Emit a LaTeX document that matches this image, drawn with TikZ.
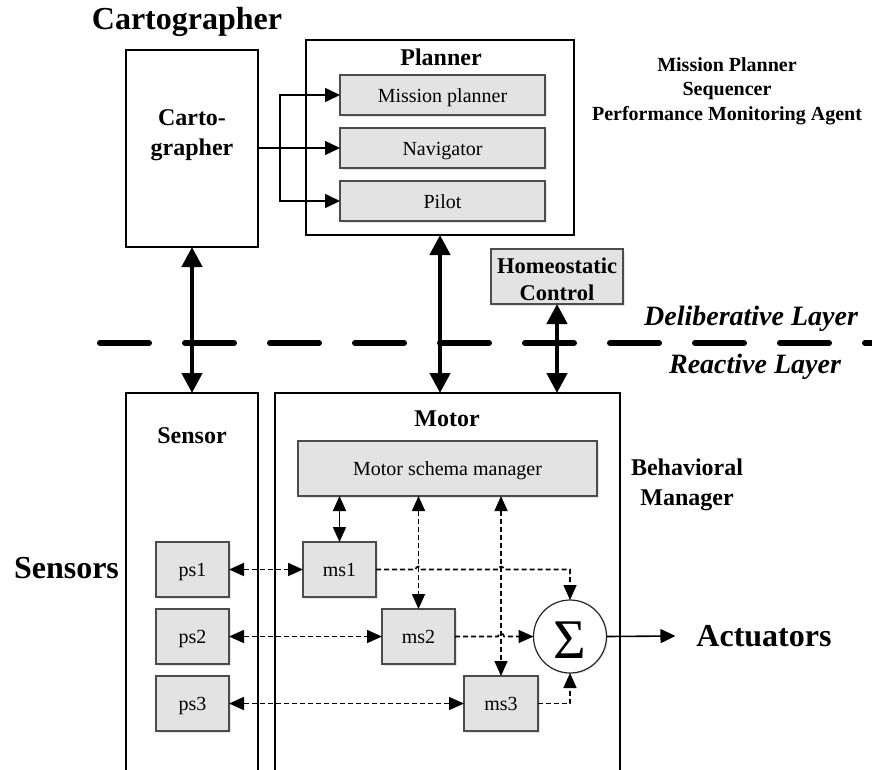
\documentclass[tikz,border=0pt]{standalone}
\usepackage{fontspec}
\setmainfont{Liberation Serif}
\usetikzlibrary{arrows.meta,shadows,calc}

\begin{document}
\begin{tikzpicture}[x=1pt,y=-1pt,
  every node/.style={inner sep=0pt, outer sep=0pt},
  bigbox/.style={draw=black, line width=1.8pt, fill=white},
  graybox/.style={draw=black!70, line width=1.2pt, fill=black!11,
    drop shadow={shadow xshift=1.5pt, shadow yshift=-1.5pt, opacity=0.2}},
  boxtext/.style={font=\fontsize{20}{24}\selectfont, text height=16.5pt, text depth=2pt},
  headtext/.style={font=\fontsize{24}{30}\selectfont\bfseries},
  bigtext/.style={font=\fontsize{32}{36}\selectfont\bfseries},
  notetext/.style={font=\fontsize{20}{24.5}\selectfont\bfseries},
  layertext/.style={font=\fontsize{28}{32}\selectfont\bfseries\itshape},
  thickarrow/.style={line width=4.5pt,
    {Triangle[length=20pt,width=20pt]}-{Triangle[length=20pt,width=20pt]}},
  thinarrow/.style={line width=1.6pt, -{Triangle[length=15pt,width=14pt]}},
  dsh/.style={line width=1.6pt, dash pattern=on 5pt off 3pt},
  dtip/.style={-{Triangle[length=15pt,width=13pt]}},
  ddtip/.style={{Triangle[length=15pt,width=13pt]}-{Triangle[length=15pt,width=13pt]}},
]
\useasboundingbox (0,0) rectangle (872,769);

% ---------- deliberative layer ----------
\node[bigtext] (cartotitle) at (187,22) {Cartographer};
\node[bigbox, minimum width=132pt, minimum height=197pt] (carto) at (192,148.5) {};
\node[headtext, align=center] (cartolabel) at (192,135) {Carto-\\grapher};

\node[bigbox, minimum width=268pt, minimum height=195pt] (planner) at (440,137.5) {};
\node[headtext] (plannerlabel) at (441,57) {Planner};
\node[graybox, boxtext, minimum width=205pt, minimum height=40pt] (mp) at (442.5,95) {Mission planner};
\node[graybox, boxtext, minimum width=205pt, minimum height=40pt] (nav) at (442.5,148) {Navigator};
\node[graybox, boxtext, minimum width=205pt, minimum height=40pt] (pilot) at (442.5,201) {Pilot};

\node[notetext, align=center] (agents) at (727,91) {Mission Planner\\Sequencer\\Performance Monitoring Agent};

\node[graybox, minimum width=132pt, minimum height=55pt] (homeo) at (557,276.5) {};
\node[align=center, font=\fontsize{22.5}{27}\selectfont\bfseries] (homeolabel) at (557,279) {Homeostatic\\Control};

% cartographer feeds the three planner modules
\coordinate (branch) at (280,148);
\draw[thinarrow] (carto.east |- nav) -- (nav.west);
\draw[thinarrow] (branch) |- (mp.west);
\draw[thinarrow] (branch) |- (pilot.west);

% ---------- layer boundary ----------
\coordinate (lineL) at (100,343);
\coordinate (lineR) at (880,343);
\draw[line width=6pt, line cap=round, dash pattern=on 49pt off 36pt] (lineL) -- (lineR);
\node[layertext] (delib) at (751,319) {Deliberative Layer};
\node[layertext] (react) at (755,367) {Reactive Layer};

% ---------- reactive layer ----------
\node[bigbox, minimum width=132pt, minimum height=379pt] (sensorbox) at (192,582.5) {};
\node[bigbox, minimum width=345pt, minimum height=379pt] (motorbox) at (447.5,582.5) {};
\node[headtext] (sensorlabel) at (192,436) {Sensor};
\node[headtext] (motorlabel) at (447,419) {Motor};

\node[graybox, boxtext, minimum width=299pt, minimum height=55pt] (msm) at (447.5,468.5) {Motor schema manager};

\node[graybox, boxtext, minimum width=73pt, minimum height=55pt] (ps1) at (192.5,569.5) {ps1};
\node[graybox, boxtext, minimum width=73pt, minimum height=55pt] (ps2) at (192.5,636.5) {ps2};
\node[graybox, boxtext, minimum width=73pt, minimum height=55pt] (ps3) at (192.5,703.5) {ps3};

\node[graybox, boxtext, minimum width=73pt, minimum height=55pt] (ms1) at (339.5,569.5) {ms1};
\node[graybox, boxtext, minimum width=73pt, minimum height=55pt] (ms2) at (418.5,636.5) {ms2};
\node[graybox, boxtext, minimum width=74pt, minimum height=55pt] (ms3) at (501,703.5) {ms3};

\node[circle, draw=black!85, line width=1.2pt, fill=white, minimum size=73pt,
  drop shadow={shadow xshift=1.5pt, shadow yshift=-1.5pt, opacity=0.15}] (sig) at (570,636.5) {};
\node[font=\fontsize{56}{56}\selectfont] (sigma) at (570,640) {Σ};

\node[bigtext] (act) at (764,636) {Actuators};
\node[bigtext] (sens) at (66.5,568) {Sensors};
\node[headtext, align=center] (behav) at (687,485) {Behavioral\\Manager};

% ---------- connectors across the layers ----------
\draw[thickarrow] (carto.south) -- (sensorbox.north);
\draw[thickarrow] (planner.south) -- (planner.south |- motorbox.north);
\draw[thickarrow] (homeo.south) -- (homeo.south |- motorbox.north);

% ---------- motor schema links ----------
\draw[line width=1.6pt, ddtip] (msm.south -| ms1) -- (ms1.north);
\draw[dsh, ddtip] (msm.south -| ms2) -- (ms2.north);
\draw[dsh, ddtip] (msm.south -| ms3) -- (ms3.north);

\draw[dsh, ddtip] (ps1.east) -- (ms1.west);
\draw[dsh, ddtip] (ps2.east) -- (ms2.west);
\draw[dsh, ddtip] (ps3.east) -- (ms3.west);

% schema outputs summed, hopping over the vertical links
\draw[dsh, dtip] (ms1.east)
  -- ($(ms1.east -| ms2)+(-3,0)$) arc[start angle=180, end angle=0, radius=3pt]
  -- ($(ms1.east -| ms3)+(-3,0)$) arc[start angle=180, end angle=0, radius=3pt]
  -- (ms1.east -| sig) -- (sig.north);
\draw[dsh, dtip] (ms2.east)
  -- ($(ms2.east -| ms3)+(-3,0)$) arc[start angle=180, end angle=0, radius=3pt]
  -- (sig.west);
\draw[dsh, dtip] (ms3.east) -| (sig.south);

\draw[thinarrow] (sig.east) -- ($(act.west)+(-21,0)$);

\end{tikzpicture}
\end{document}
